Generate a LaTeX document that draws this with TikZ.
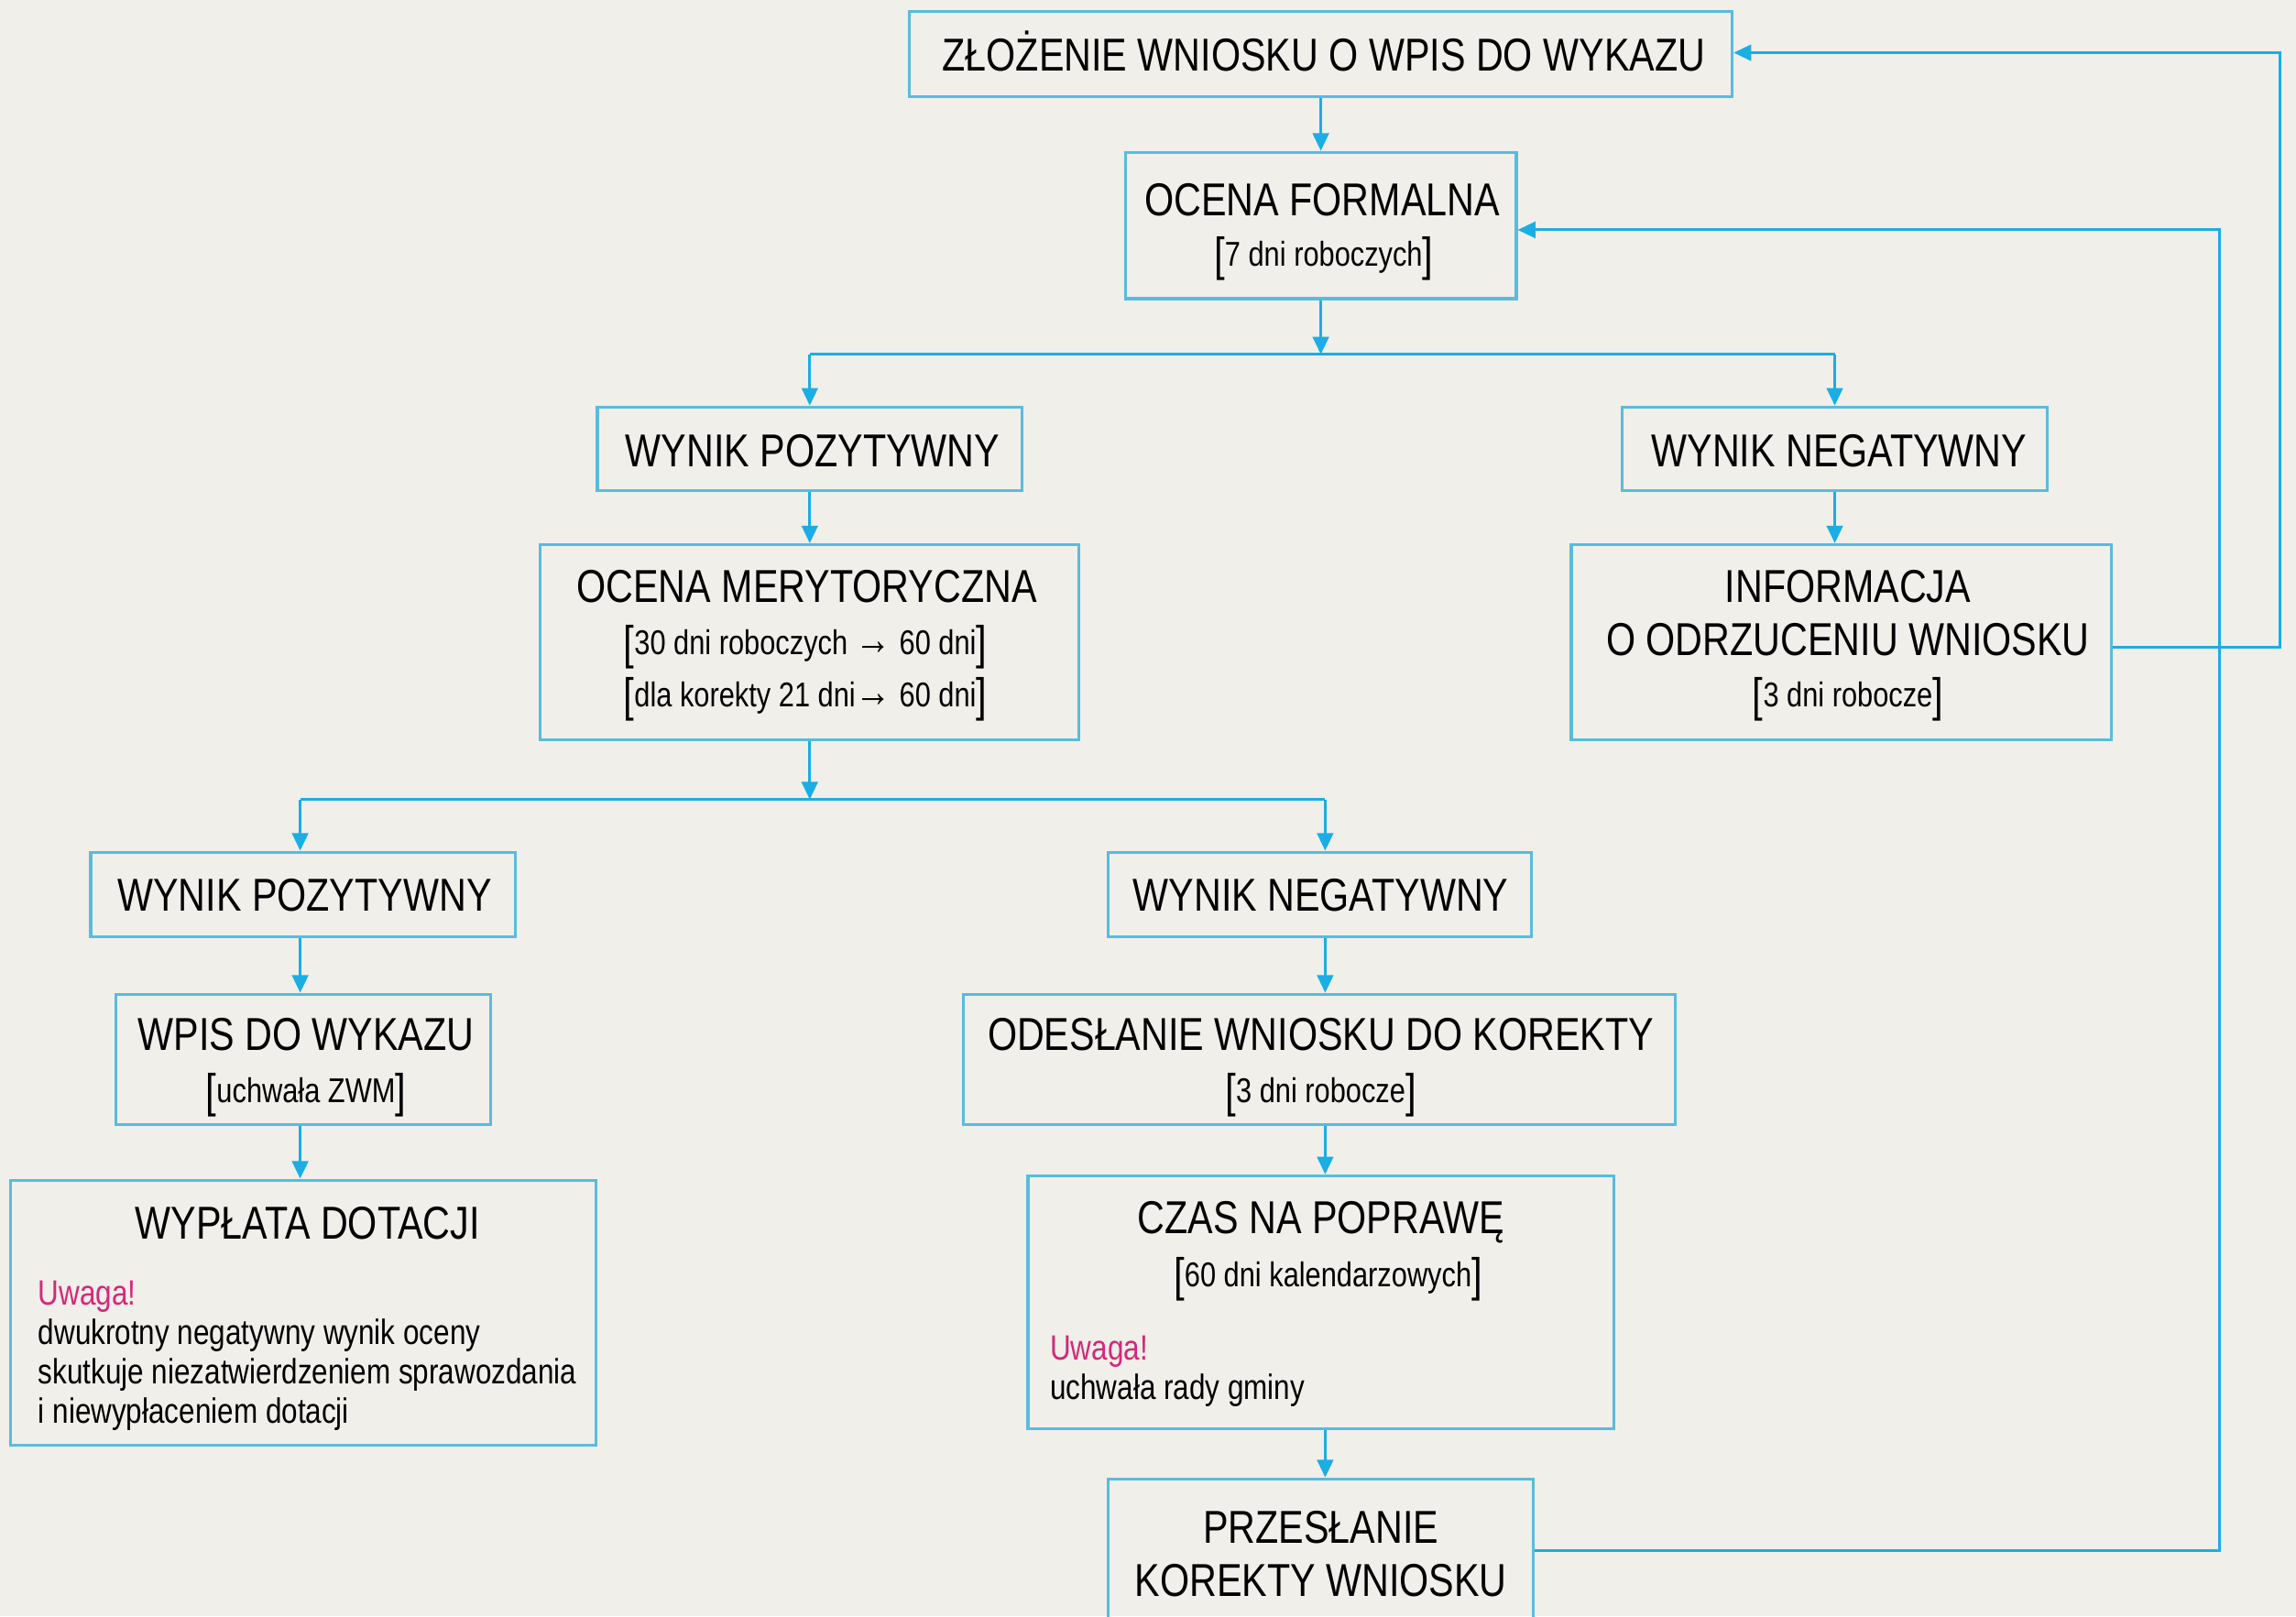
\documentclass[tikz,border=0pt]{standalone}
\usepackage{fontspec}
\setmainfont{Liberation Sans}[FakeStretch=0.82]
\usetikzlibrary{arrows.meta}
\definecolor{bgc}{RGB}{241,239,234}
\definecolor{bord}{RGB}{88,188,222}
\definecolor{arr}{RGB}{26,174,228}
\definecolor{pinkc}{RGB}{212,40,120}
\newcommand\bkt[1]{\raisebox{-3pt}{\fontsize{32}{32}\selectfont[}#1\raisebox{-3pt}{\fontsize{32}{32}\selectfont]}}
\newcommand\rarw{{\fontsize{30}{30}\selectfont →}}
\begin{document}
\begin{tikzpicture}[x=1pt,y=1pt,
  box/.style={draw=bord,line width=2pt,inner sep=0pt},
  hd/.style={inner sep=0pt,anchor=base,font=\fontsize{31.5}{36}\selectfont},
  sb/.style={inner sep=0pt,anchor=base,font=\fontsize{23.5}{27}\selectfont},
  note/.style={inner sep=0pt,anchor=base west,font=\fontsize{24}{27}\selectfont},
  link/.style={draw=arr,line width=1.8pt},
  arrow/.style={link,-{Triangle[length=12pt,width=11pt]}}
]
\fill[bgc] (0,0) rectangle (1568,-1104);
\useasboundingbox (0,0) rectangle (1568,-1104);

% boxes
\node[box,minimum width=562pt,minimum height=58pt] (zl) at (902,-37) {};
\node[box,minimum width=267pt,minimum height=100pt] (of) at (902,-154) {};
\node[box,minimum width=290pt,minimum height=57pt] (wp1) at (553,-306.5) {};
\node[box,minimum width=290pt,minimum height=57pt] (wn1) at (1253,-306.5) {};
\node[box,minimum width=368pt,minimum height=133pt] (om) at (553,-438.5) {};
\node[box,minimum width=369pt,minimum height=133pt] (inf) at (1257.5,-438.5) {};
\node[box,minimum width=290pt,minimum height=58pt] (wp2) at (207,-611) {};
\node[box,minimum width=289pt,minimum height=58pt] (wn2) at (901.5,-611) {};
\node[box,minimum width=256pt,minimum height=89pt] (wpis) at (207,-723.5) {};
\node[box,minimum width=486pt,minimum height=89pt] (ode) at (901,-723.5) {};
\node[box,minimum width=400pt,minimum height=181pt] (wyp) at (207,-896.5) {};
\node[box,minimum width=400pt,minimum height=173pt] (czas) at (902,-889.5) {};
\node[box,minimum width=290pt,minimum height=98pt] (prz) at (902,-1059) {};

% texts
\node[hd] (zlT) at (904,-48.5) {ZŁOŻENIE WNIOSKU O WPIS DO WYKAZU};
\node[hd] (ofT) at (903,-147.5) {OCENA FORMALNA};
\node[sb] (ofS) at (904,-182) {\bkt{7 dni roboczych}};
\node[hd] (wp1T) at (555,-318.5) {WYNIK POZYTYWNY};
\node[hd] (wn1T) at (1256,-318.5) {WYNIK NEGATYWNY};
\node[hd] (omT) at (551,-411.5) {OCENA MERYTORYCZNA};
\node[sb] (omS1) at (550,-447) {\bkt{30 dni roboczych \rarw\ 60 dni}};
\node[sb] (omS2) at (550,-483) {\bkt{dla korekty 21 dni\rarw\ 60 dni}};
\node[hd] (infT1) at (1262,-411.5) {INFORMACJA};
\node[hd] (infT2) at (1262,-447.5) {O ODRZUCENIU WNIOSKU};
\node[sb] (infS) at (1262,-483) {\bkt{3 dni robocze}};
\node[hd] (wp2T) at (208,-622.5) {WYNIK POZYTYWNY};
\node[hd] (wn2T) at (902,-622.5) {WYNIK NEGATYWNY};
\node[hd] (wpisT) at (209,-717.5) {WPIS DO WYKAZU};
\node[sb] (wpisS) at (209,-753) {\bkt{uchwała ZWM}};
\node[hd] (odeT) at (902,-717.5) {ODESŁANIE WNIOSKU DO KOREKTY};
\node[sb] (odeS) at (902,-753) {\bkt{3 dni robocze}};
\node[hd] (wypT) at (210,-846.5) {WYPŁATA DOTACJI};
\node[note,text=pinkc] (wypU) at (26,-891) {Uwaga!};
\node[note] (wypL1) at (26,-918) {dwukrotny negatywny wynik oceny};
\node[note] (wypL2) at (26,-945) {skutkuje niezatwierdzeniem sprawozdania};
\node[note] (wypL3) at (26,-972) {i niewypłaceniem dotacji};
\node[hd] (czasT) at (902,-842.5) {CZAS NA POPRAWĘ};
\node[sb] (czasS) at (907,-879) {\bkt{60 dni kalendarzowych}};
\node[note,text=pinkc] (czasU) at (717,-929) {Uwaga!};
\node[note] (czasL) at (717,-956) {uchwała rady gminy};
\node[hd] (przT1) at (902,-1054) {PRZESŁANIE};
\node[hd] (przT2) at (902,-1090) {KOREKTY WNIOSKU};

% junctions
\coordinate (j1) at (902,-242);
\coordinate (j1l) at (553,-242);
\coordinate (j1r) at (1253,-242);
\coordinate (j2) at (553,-546);
\coordinate (j2l) at (205,-546);
\coordinate (j2r) at (905,-546);
\coordinate (fb1) at (1516,-1059);
\coordinate (fb2) at (1516,-157);
\coordinate (fb3) at (1557,-442);
\coordinate (fb4) at (1557,-36);

% connectors
\draw[arrow] (zl.south) -- (of.north);
\draw[arrow] (of.south) -- (j1);
\draw[link] (j1l) -- (j1r);
\draw[arrow] (j1l) -- (wp1.north);
\draw[arrow] (j1r) -- (wn1.north);
\draw[arrow] (wp1.south) -- (om.north);
\draw[arrow] (wn1.south) -- (wn1.south |- inf.north);
\draw[arrow] (om.south) -- (j2);
\draw[link] (j2l) -- (j2r);
\draw[arrow] (j2l) -- (j2l |- wp2.north);
\draw[arrow] (j2r) -- (j2r |- wn2.north);
\draw[arrow] (j2l |- wp2.south) -- (j2l |- wpis.north);
\draw[arrow] (j2l |- wpis.south) -- (j2l |- wyp.north);
\draw[arrow] (j2r |- wn2.south) -- (j2r |- ode.north);
\draw[arrow] (j2r |- ode.south) -- (j2r |- czas.north);
\draw[arrow] (j2r |- czas.south) -- (j2r |- prz.north);
\draw[arrow] (prz.east) -- (fb1) -- (fb2) -- (fb2 -| of.east);
\draw[arrow] (inf.east |- fb3) -- (fb3) -- (fb4) -- (fb4 -| zl.east);
\end{tikzpicture}
\end{document}
